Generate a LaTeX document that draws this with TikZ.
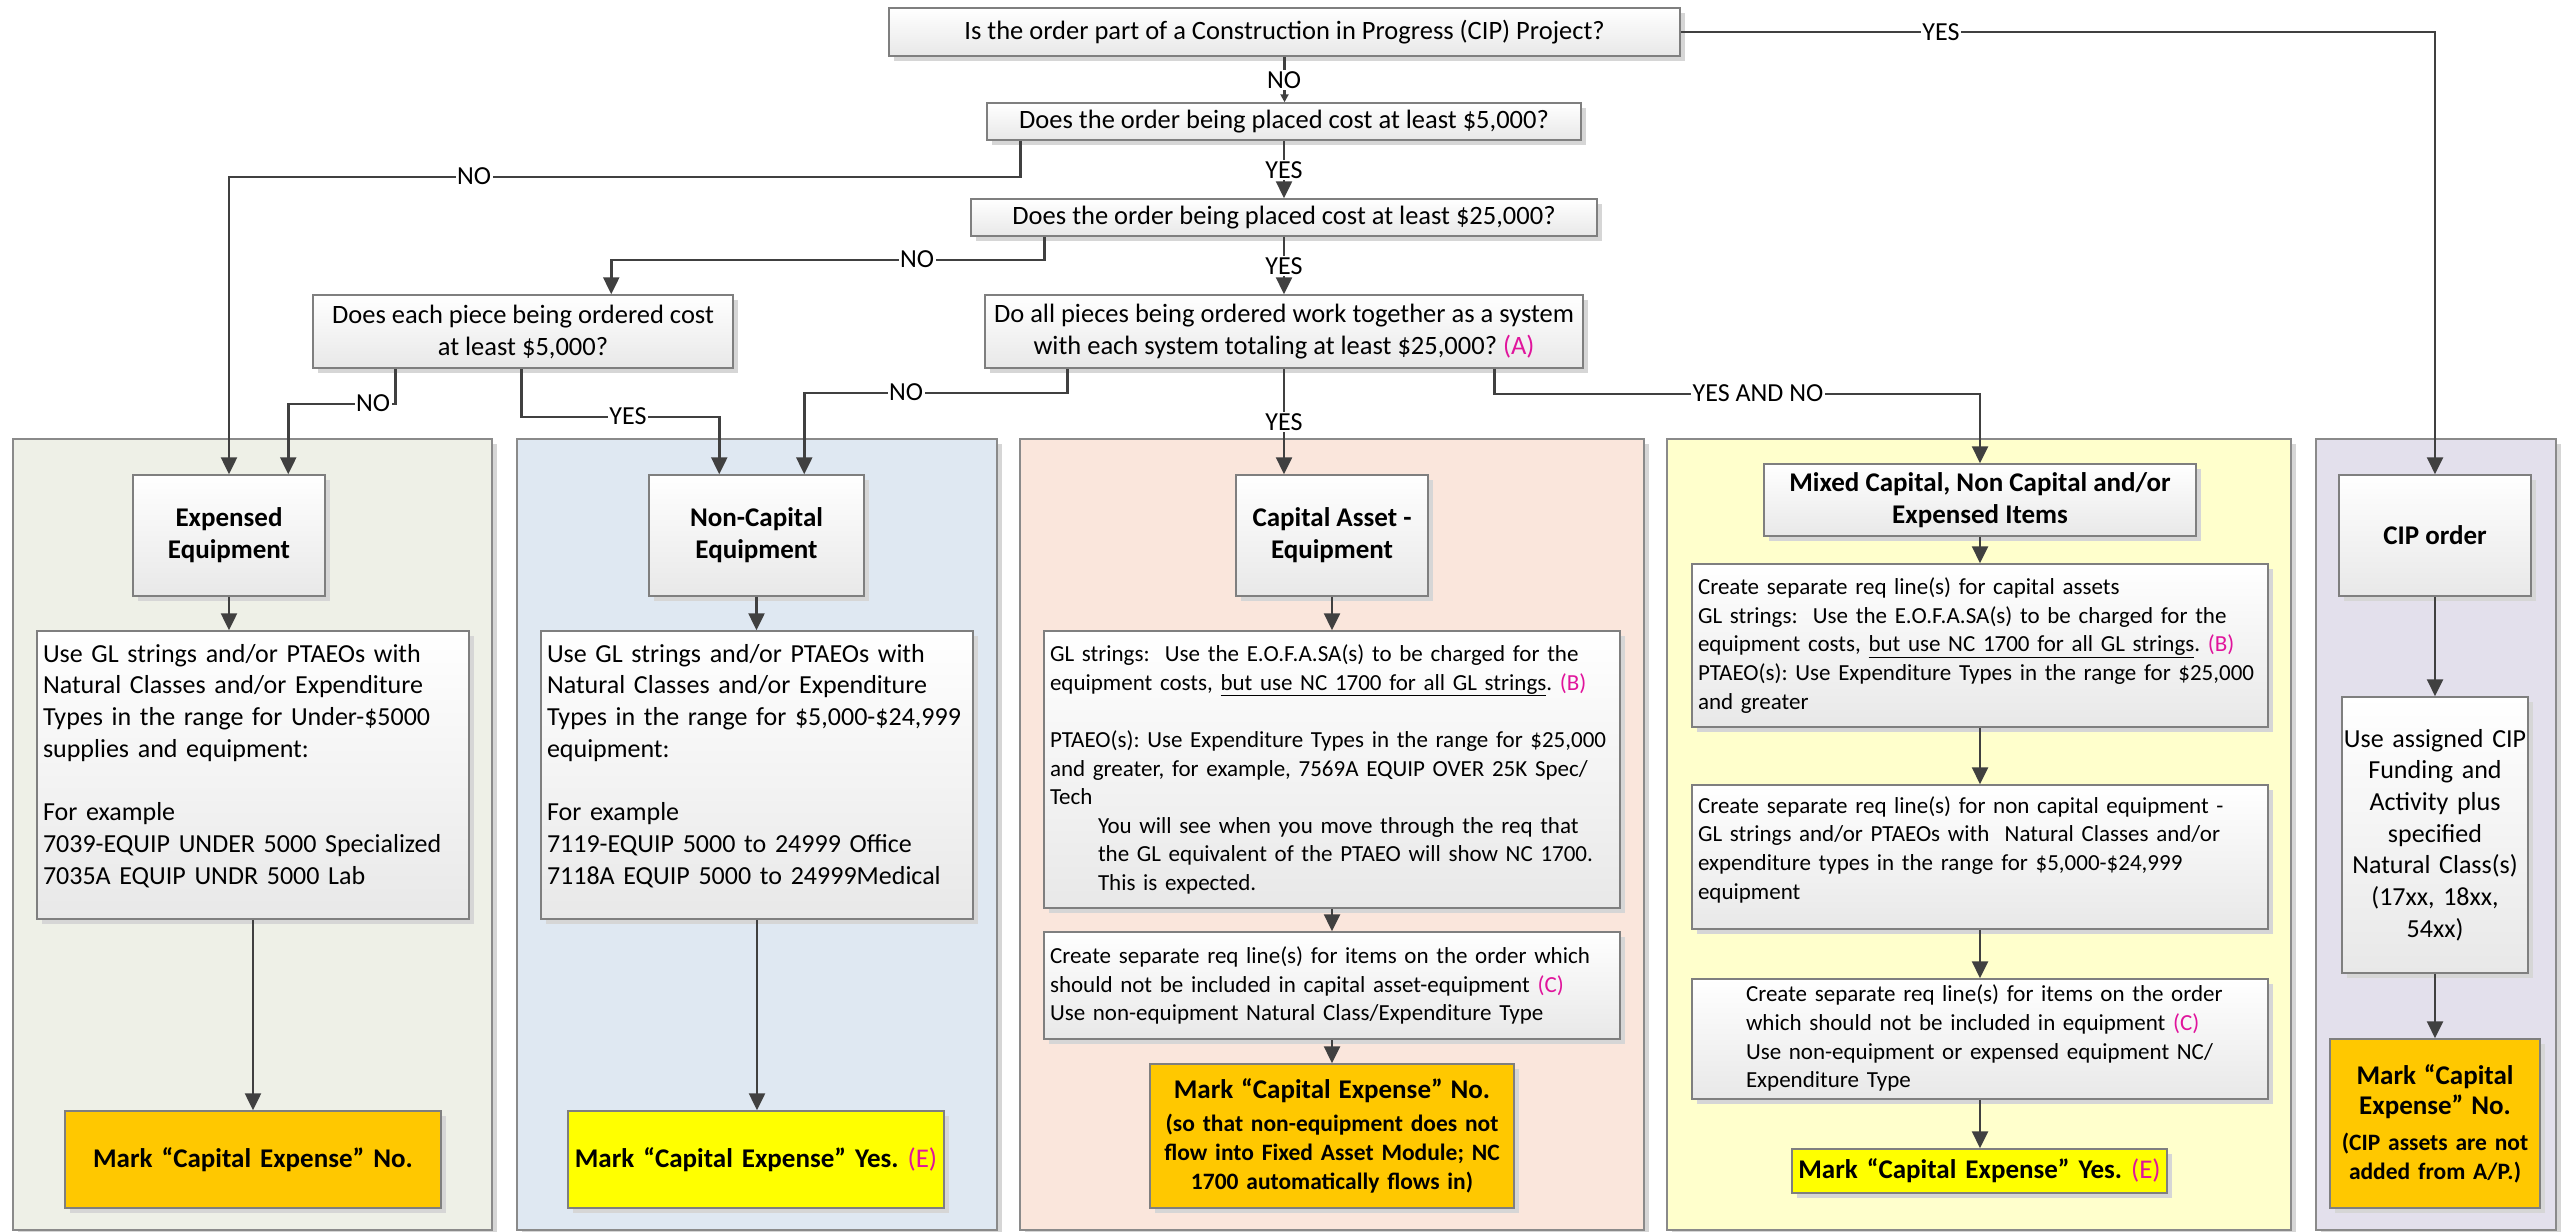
\documentclass[tikz,border=0pt]{standalone}
\usepackage{fontspec}
\setmainfont{Carlito}
\usetikzlibrary{arrows.meta,shadows}
\definecolor{linec}{HTML}{404040}
\definecolor{boxc}{HTML}{7F7F7F}
\definecolor{panelc}{HTML}{8A8A8A}
\definecolor{shadowc}{HTML}{D6D6D6}
\definecolor{pgreen}{HTML}{EEF0E7}
\definecolor{pblue}{HTML}{DFE8F2}
\definecolor{ppeach}{HTML}{FAE6DC}
\definecolor{pyellow}{HTML}{FFFFCC}
\definecolor{plav}{HTML}{E3E0EC}
\definecolor{orangec}{HTML}{FFC800}
\definecolor{yellowc}{HTML}{FFFF00}
\definecolor{magc}{HTML}{E0149C}
\newcommand{\txtA}{\fontsize{26.5}{32}\selectfont}
\newcommand{\txtC}{\fontsize{26}{31.7}\selectfont}
\newcommand{\txtB}{\fontsize{23}{28.6}\selectfont}
\newcommand{\ttlA}{\fontsize{27}{32}\selectfont\bfseries}
\newcommand{\ttlB}{\fontsize{23.5}{29}\selectfont\bfseries}
\newcommand{\magtxt}[1]{\textcolor{magc}{#1}}
\newcommand{\nobrk}{\rightskip=0pt plus 1fil minus 80pt\relax}
\newcommand{\ind}{\hspace*{48pt}}
\begin{document}
\frenchspacing
\begin{tikzpicture}[x=1pt,y=-1pt,
 shad/.style={drop shadow={shadow xshift=5pt,shadow yshift=-5pt,fill=shadowc,opacity=1}},
 panel/.style={draw=panelc,line width=1.5pt,shad},
 gbox/.style={draw=boxc,line width=1.5pt,shad,top color=white,bottom color=black!9,inner sep=0pt},
 qbox/.style={gbox,font=\txtA,align=center},
 tbox/.style={gbox,font=\ttlA,align=center},
 lbox/.style={gbox,align=left,inner xsep=6pt},
 obox/.style={draw=boxc,line width=1.5pt,shad,fill=orangec,align=center,inner sep=0pt},
 ybox/.style={draw=boxc,line width=1.5pt,shad,fill=yellowc,align=center,inner sep=0pt},
 conn/.style={draw=linec,line width=2.5pt,-{Triangle[length=17pt,width=16pt]}},
 connsmall/.style={draw=linec,line width=2.5pt,-{Triangle[length=8pt,width=8pt]}},
 lab/.style={fill=white,inner sep=1.5pt,font=\fontsize{26}{30}\selectfont,text=black}
]
\useasboundingbox (0,0) rectangle (2569,1231);
\fill[white] (0,0) rectangle (2569,1231);
% panels
\path[panel,fill=pgreen] (13,439) rectangle (492,1230);
\path[panel,fill=pblue] (517,439) rectangle (997,1230);
\path[panel,fill=ppeach] (1020,439) rectangle (1644,1230);
\path[panel,fill=pyellow] (1667,439) rectangle (2291,1230);
\path[panel,fill=plav] (2316,439) rectangle (2556,1230);
% questions
\node[qbox,minimum width=791pt,minimum height=48pt] (q1) at (1284.5,32) {Is the order part of a Construction in Progress (CIP) Project?};
\node[qbox,minimum width=594pt,minimum height=37pt] (q2) at (1284,121.5) {Does the order being placed cost at least \$5,000?};
\node[qbox,minimum width=626pt,minimum height=37pt] (q3) at (1284,217.5) {Does the order being placed cost at least \$25,000?};
\node[qbox,minimum width=420pt,minimum height=73pt] (q4) at (523,331.5) {Does each piece being ordered cost\\at least \$5,000?};
\node[qbox,minimum width=598pt,minimum height=73pt] (q5) at (1284,331.5) {Do all pieces being ordered work together as a system\\with each system totaling at least \$25,000? \magtxt{(A)}};
% panel 1
\node[tbox,minimum width=192pt,minimum height=121pt] (e1) at (229,535.5) {Expensed\\Equipment};
\node[lbox,font=\txtC,text width=420pt,minimum height=288pt] (e2) at (253,775) {\nobrk Use GL strings and/or PTAEOs with\\Natural Classes and/or Expenditure\\Types in the range for Under-\$5000\\supplies and equipment:\\[31.7pt]For example\\7039-EQUIP UNDER 5000 Specialized\\7035A EQUIP UNDR 5000 Lab\\[-10pt]\mbox{}};
\node[obox,font=\ttlA,text width=376pt,minimum height=97pt] (e3) at (253,1159.5) {Mark “Capital Expense” No.};
% panel 2
\node[tbox,minimum width=215pt,minimum height=121pt] (n1) at (756.5,535.5) {Non-Capital\\Equipment};
\node[lbox,font=\txtC,text width=420pt,minimum height=288pt] (n2) at (757,775) {\nobrk Use GL strings and/or PTAEOs with\\Natural Classes and/or Expenditure\\Types in the range for \$5,000-\$24,999\\equipment:\\[31.7pt]For example\\7119-EQUIP 5000 to 24999 Office\\7118A EQUIP 5000 to 24999Medical\\[-10pt]\mbox{}};
\node[ybox,font=\ttlA,text width=376pt,minimum height=97pt] (n3) at (756,1159.5) {Mark “Capital Expense” Yes. {\mdseries\magtxt{(E)}}};
% panel 3
\node[tbox,minimum width=192pt,minimum height=121pt] (c1) at (1332,535.5) {Capital Asset -\\Equipment};
\node[lbox,font=\txtB,text width=564pt,minimum height=277pt] (c2) at (1332,769.5) {\nobrk GL strings:\ \ Use the E.O.F.A.SA(s) to be charged for the\\equipment costs, \underline{but use NC 1700 for all GL strings}. \magtxt{(B)}\\[28.6pt]PTAEO(s): Use Expenditure Types in the range for \$25,000\\and greater, for example, 7569A EQUIP OVER 25K Spec/\\Tech\\\ind You will see when you move through the req that\\\ind the GL equivalent of the PTAEO will show NC 1700.\\\ind This is expected.};
\node[lbox,font=\txtB,text width=564pt,minimum height=107pt] (c3) at (1332,985.5) {\nobrk Create separate req line(s) for items on the order which\\should not be included in capital asset-equipment \magtxt{(C)}\\Use non-equipment Natural Class/Expenditure Type};
\node[obox,font=\ttlB,text width=364pt,minimum height=144pt] (c4) at (1332,1136) {{\ttlA Mark “Capital Expense” No.}\\[4pt](so that non-equipment does not\\flow into Fixed Asset Module; NC\\1700 automatically flows in)};
% panel 4
\node[tbox,minimum width=432pt,minimum height=72pt] (m0) at (1980,500) {Mixed Capital, Non Capital and/or\\Expensed Items};
\node[lbox,font=\txtB,text width=564pt,minimum height=163pt] (m1) at (1980,645.5) {\nobrk Create separate req line(s) for capital assets\\GL strings:\ \ Use the E.O.F.A.SA(s) to be charged for the\\equipment costs, \underline{but use NC 1700 for all GL strings}. \magtxt{(B)}\\PTAEO(s): Use Expenditure Types in the range for \$25,000\\and greater};
\node[lbox,font=\txtB,text width=564pt,minimum height=144pt] (m2) at (1980,857) {\nobrk Create separate req line(s) for non capital equipment -\\GL strings and/or PTAEOs with\ \ Natural Classes and/or\\expenditure types in the range for \$5,000-\$24,999\\equipment\\[-10pt]\mbox{}};
\node[lbox,font=\txtB,text width=564pt,minimum height=120pt] (m3) at (1980,1039) {\begin{tabular}{@{\hspace{48pt}}l@{}}Create separate req line(s) for items on the order\\which should not be included in equipment \magtxt{(C)}\\Use non-equipment or expensed equipment NC/\\Expenditure Type\end{tabular}};
\node[ybox,font=\ttlA,text width=375pt,minimum height=44pt] (m4) at (1979.5,1171) {Mark “Capital Expense” Yes. {\mdseries\magtxt{(E)}}};
% panel 5
\node[tbox,minimum width=192pt,minimum height=121pt] (k1) at (2435,535.5) {CIP order};
\node[gbox,font=\txtC,align=center,text width=186pt,minimum height=276pt] (k2) at (2435,835) {Use assigned CIP\\Funding and\\Activity plus\\specified\\Natural Class(s)\\(17xx, 18xx,\\54xx)};
\node[obox,font=\ttlB,text width=210pt,minimum height=169pt] (k3) at (2435,1123.5) {{\ttlA Mark “Capital\\[1pt]Expense” No.}\\[7pt](CIP assets are not\\added from A/P.)};
% connectors
\draw[connsmall] (q1.south) -- (q1.south |- q2.north);
\draw[conn] (q1.east) -| (k1.north);
\draw[conn] ([xshift=34pt]q2.south west) -- ++(0,36) -| (e1.north);
\draw[conn] (q2.south) -- (q2.south |- q3.north);
\draw[conn] ([xshift=74pt]q3.south west) -- ++(0,23) -| ([xshift=299pt]q4.north west);
\draw[conn] (q3.south) -- (q3.south |- q5.north);
\draw[conn] ([xshift=83pt]q4.south west) -- ++(0,35) -| ([xshift=156pt]e1.north west);
\draw[conn] ([xshift=209pt]q4.south west) -- ++(0,48) -| ([xshift=71pt]n1.north west);
\draw[conn] ([xshift=83pt]q5.south west) -- ++(0,24) -| ([xshift=156pt]n1.north west);
\draw[conn] (q5.south) -- (q5.south |- c1.north);
\draw[conn] ([xshift=510pt]q5.south west) -- ++(0,25) -| (m0.north);
\draw[conn] (e1.south) -- (e1.south |- e2.north);
\draw[conn] (e2.south) -- (e2.south |- e3.north);
\draw[conn] (n1.south) -- (n1.south |- n2.north);
\draw[conn] (n2.south) -- (n2.south |- n3.north);
\draw[conn] (c1.south) -- (c1.south |- c2.north);
\draw[conn] (c2.south) -- (c2.south |- c3.north);
\draw[conn] (c3.south) -- (c3.south |- c4.north);
\draw[conn] (m0.south) -- (m0.south |- m1.north);
\draw[conn] (m1.south) -- (m1.south |- m2.north);
\draw[conn] (m2.south) -- (m2.south |- m3.north);
\draw[conn] (m3.south) -- (m3.south |- m4.north);
\draw[conn] (k1.south) -- (k1.south |- k2.north);
\draw[conn] (k2.south) -- (k2.south |- k3.north);
% labels
\node[lab] (l1) at (1284,80) {NO};
\node[lab] (l2) at (1941,32) {YES};
\node[lab] (l3) at (474,176) {NO};
\node[lab] (l4) at (1284,170) {YES};
\node[lab] (l5) at (917,259) {NO};
\node[lab] (l6) at (1284,266) {YES};
\node[lab] (l7) at (373,403) {NO};
\node[lab] (l8) at (628,416) {YES};
\node[lab] (l9) at (906,392) {NO};
\node[lab] (l10) at (1284,422) {YES};
\node[lab] (l11) at (1758,393) {YES AND NO};
\end{tikzpicture}
\end{document}
